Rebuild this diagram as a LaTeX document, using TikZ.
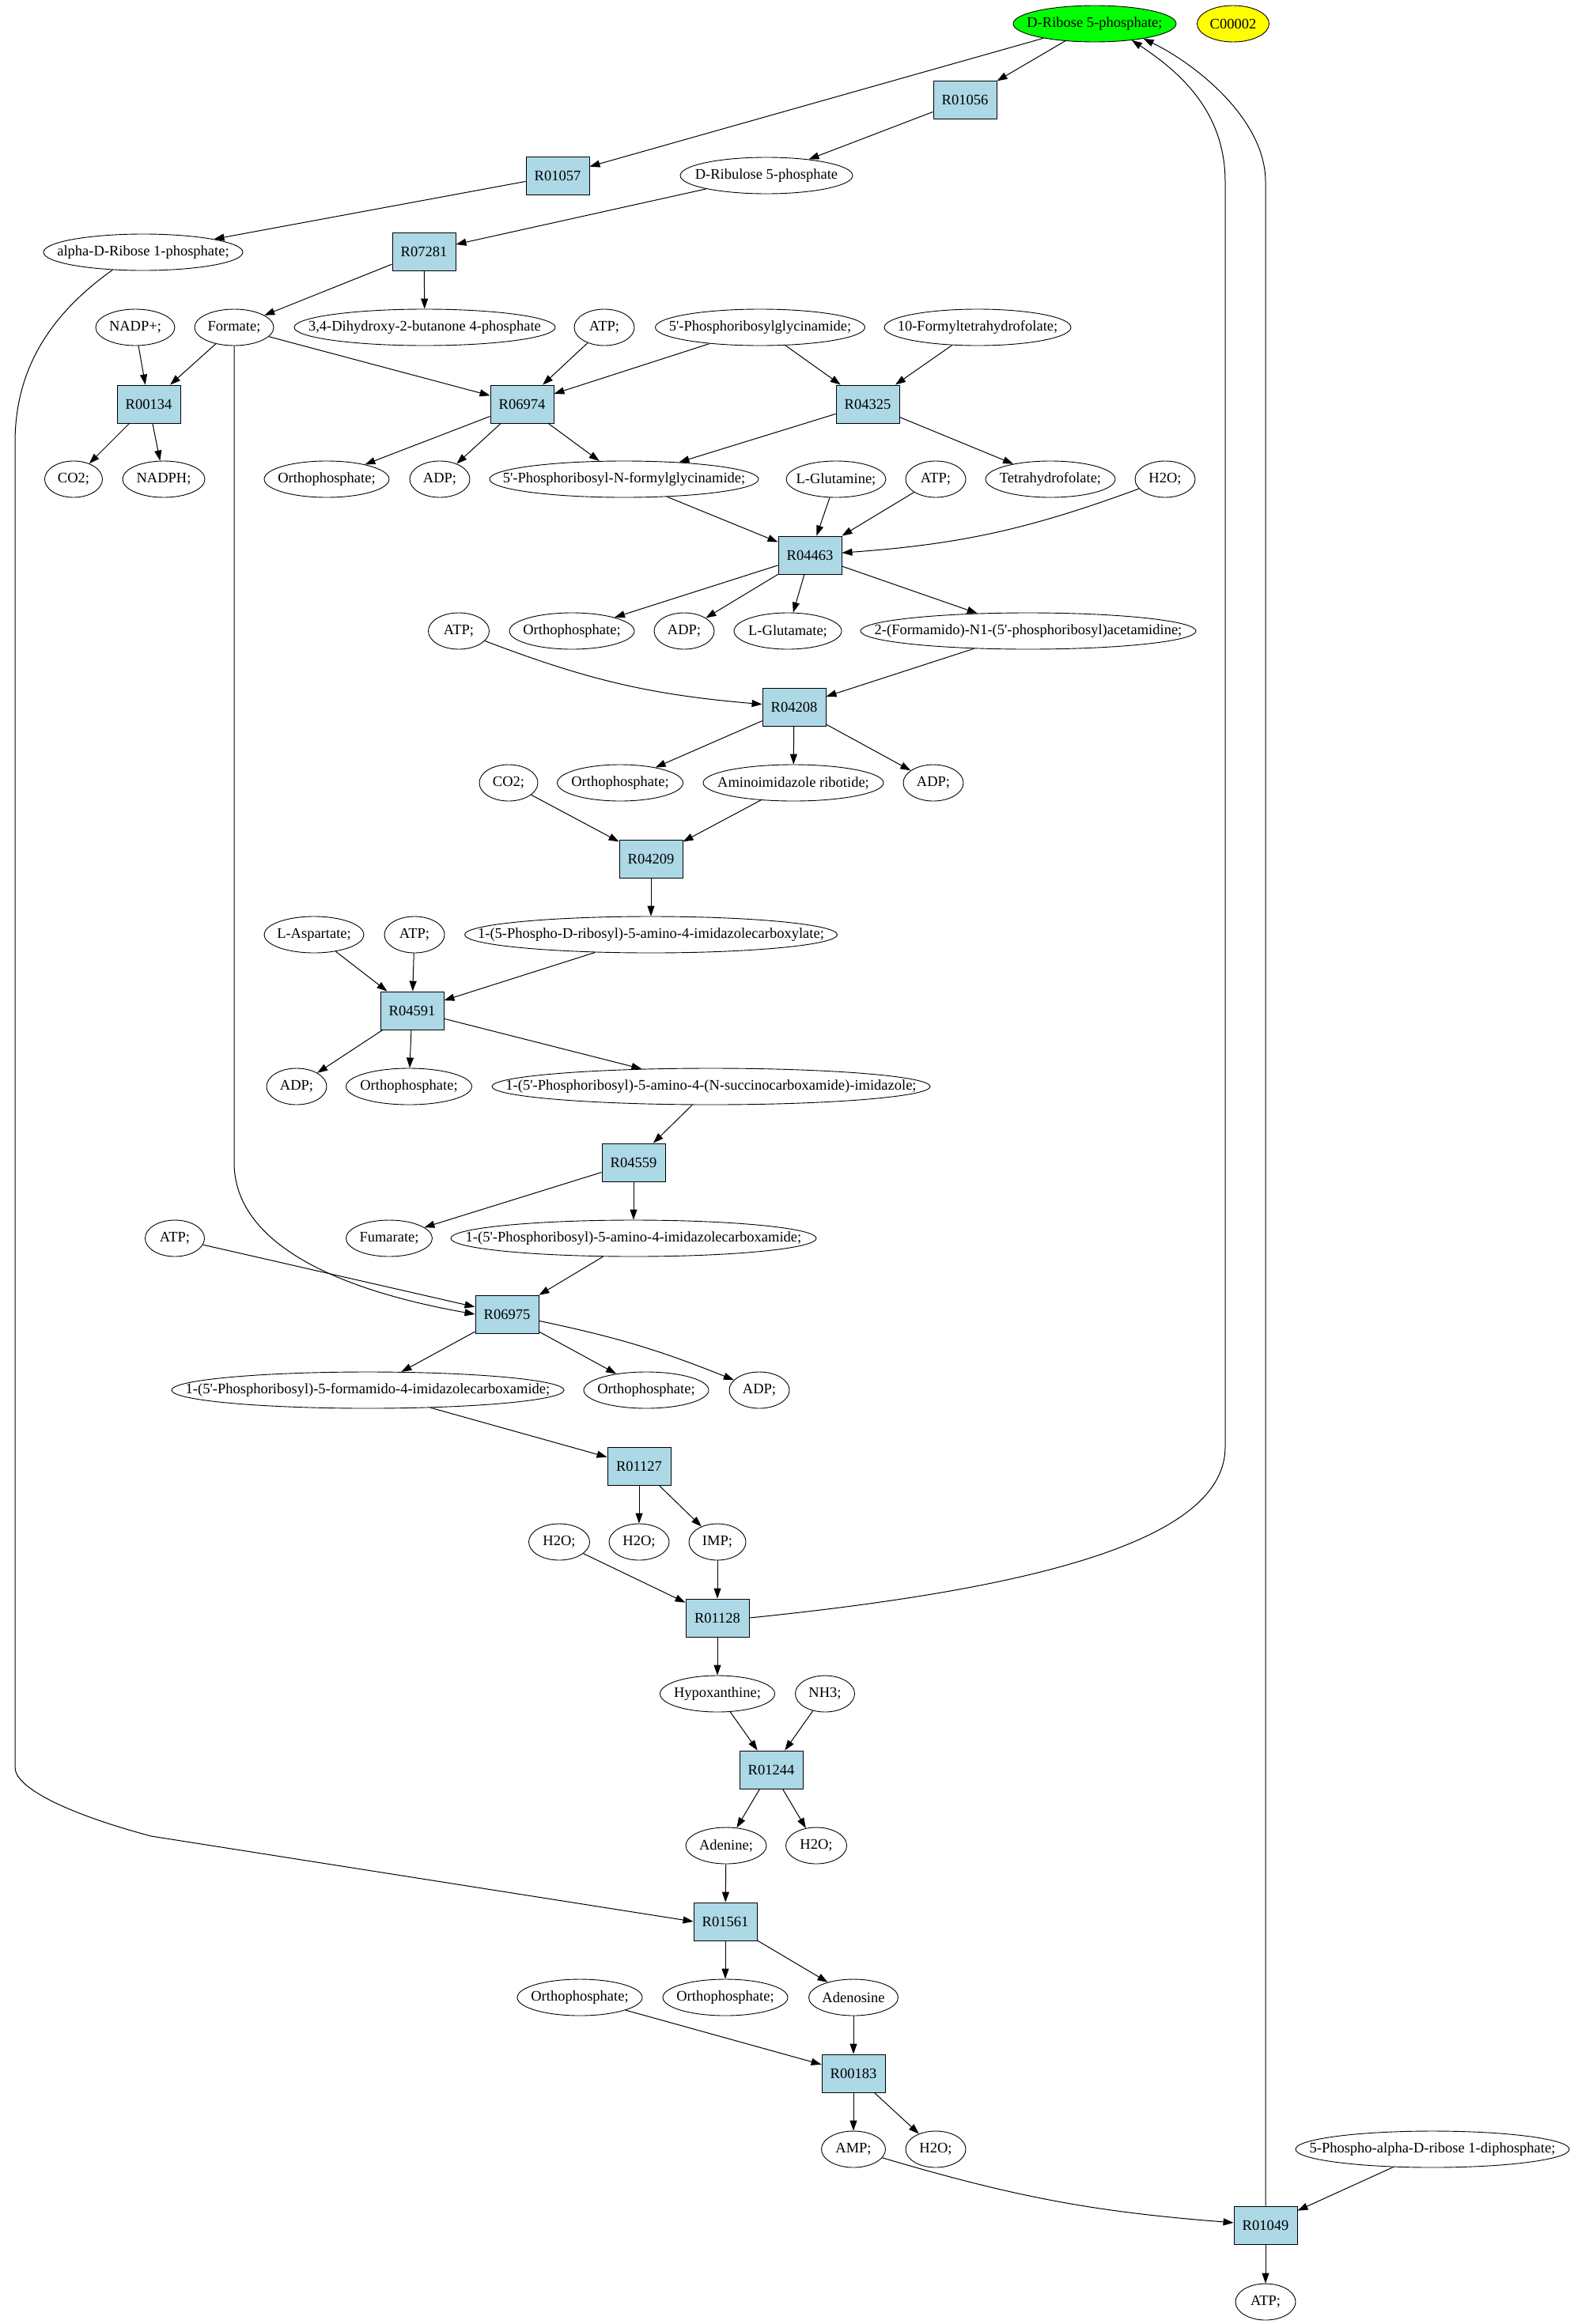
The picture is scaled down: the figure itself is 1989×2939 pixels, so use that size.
\documentclass[tikz,border=0pt]{standalone}
\usepackage{fontspec}
\setmainfont{Liberation Serif}[Ligatures=TeXOff]
\usetikzlibrary{arrows.meta,shapes.geometric}
\definecolor{lightblue}{RGB}{173,216,230}
\definecolor{gvgreen}{RGB}{0,255,0}
\definecolor{gvyellow}{RGB}{255,255,0}
\newcommand{\gvfont}{\fontsize{18.5}{22}\selectfont}
\tikzset{
  met/.style={ellipse, draw, line width=0.9pt, inner sep=0pt, minimum height=46pt, font=\gvfont},
  rxn/.style={rectangle, draw, line width=0.9pt, fill=lightblue, minimum width=80pt, minimum height=48pt, inner sep=0pt, font=\gvfont},
  arr/.style={-{Triangle[length=13pt,width=9pt]}, line width=1pt},
}
\newcommand{\metab}[5]{\node[met,minimum width=#4pt] (#1) at (#2,-#3) {\makebox[0pt]{#5}};}
\newcommand{\react}[3]{\node[rxn] (#1) at (#2,-#3) {\makebox[0pt]{#1}};}
\begin{document}
\begin{tikzpicture}[x=1pt,y=1pt]
\useasboundingbox (0,0) rectangle (1989,-2939);
\fill[white] (0,0) rectangle (1989,-2939);
% nodes
\node[met,minimum width=206pt,fill=gvgreen] (DRP) at (1384,-30) {\makebox[0pt]{D-Ribose 5-phosphate;}};
\node[met,minimum width=91pt,fill=gvyellow] (C00002) at (1559,-30) {\makebox[0pt]{C00002}};
\react{R01056}{1220}{126}
\react{R01057}{705}{222}
\metab{RuP}{969}{222}{218}{D-Ribulose 5-phosphate}
\metab{aRP}{181}{319}{252}{alpha-D-Ribose 1-phosphate;}
\react{R07281}{536}{318}
\metab{NADPp}{171}{414}{100}{NADP+;}
\metab{Form}{296}{414}{100}{Formate;}
\metab{DHBP}{537}{414}{330}{3,4-Dihydroxy-2-butanone 4-phosphate}
\metab{ATPa}{764}{414}{76}{ATP;}
\metab{PRG}{961}{414}{265}{5'-Phosphoribosylglycinamide;}
\metab{FTHF}{1236}{414}{236}{10-Formyltetrahydrofolate;}
\react{R00134}{188}{511}
\react{R06974}{660}{511}
\react{R04325}{1097}{511}
\metab{CO2a}{93}{606}{73}{CO2;}
\metab{NADPH}{207}{606}{104}{NADPH;}
\metab{Pia}{413}{606}{158}{Orthophosphate;}
\metab{ADPa}{556}{606}{76}{ADP;}
\metab{FGAR}{789}{606}{340}{5'-Phosphoribosyl-N-formylglycinamide;}
\metab{Gln}{1057}{606}{126}{L-Glutamine;}
\metab{ATPb}{1183}{606}{76}{ATP;}
\metab{THF}{1328}{606}{164}{Tetrahydrofolate;}
\metab{H2Oa}{1473}{606}{76}{H2O;}
\react{R04463}{1024}{702}
\metab{ATPc}{580}{798}{77}{ATP;}
\metab{Pib}{723}{798}{158}{Orthophosphate;}
\metab{ADPb}{865}{798}{76}{ADP;}
\metab{Glu}{996}{798}{136}{L-Glutamate;}
\metab{FGAM}{1300}{798}{424}{2-(Formamido)-N1-(5'-phosphoribosyl)acetamidine;}
\react{R04208}{1004}{894}
\metab{CO2b}{643}{990}{74}{CO2;}
\metab{Pic}{784}{990}{159}{Orthophosphate;}
\metab{AIR}{1003}{990}{228}{Aminoimidazole ribotide;}
\metab{ADPc}{1180}{990}{76}{ADP;}
\react{R04209}{823}{1086}
\metab{Asp}{397}{1182}{126}{L-Aspartate;}
\metab{ATPd}{524}{1182}{76}{ATP;}
\metab{CAIR}{823}{1182}{471}{1-(5-Phospho-D-ribosyl)-5-amino-4-imidazolecarboxylate;}
\react{R04591}{521}{1278}
\metab{ADPd}{375}{1374}{76}{ADP;}
\metab{Pid}{517}{1374}{159}{Orthophosphate;}
\metab{SAICAR}{899}{1374}{554}{1-(5'-Phosphoribosyl)-5-amino-4-(N-succinocarboxamide)-imidazole;}
\react{R04559}{801}{1470}
\metab{Fum}{492}{1566}{109}{Fumarate;}
\metab{AICAR}{801}{1566}{462}{1-(5'-Phosphoribosyl)-5-amino-4-imidazolecarboxamide;}
\metab{ATPe}{221}{1566}{75}{ATP;}
\react{R06975}{641}{1662}
\metab{FAICAR}{465}{1758}{496}{1-(5'-Phosphoribosyl)-5-formamido-4-imidazolecarboxamide;}
\metab{Pie}{817}{1758}{158}{Orthophosphate;}
\metab{ADPe}{960}{1758}{76}{ADP;}
\react{R01127}{808}{1854}
\metab{H2Ob}{707}{1950}{77}{H2O;}
\metab{H2Oc}{808}{1950}{76}{H2O;}
\metab{IMP}{907}{1950}{72}{IMP;}
\react{R01128}{907}{2046}
\metab{Hyp}{907}{2142}{145}{Hypoxanthine;}
\metab{NH3}{1043}{2142}{75}{NH3;}
\react{R01244}{975}{2238}
\metab{Ade}{918}{2334}{102}{Adenine;}
\metab{H2Od}{1032}{2334}{77}{H2O;}
\react{R01561}{917}{2430}
\metab{Pif}{733}{2526}{158}{Orthophosphate;}
\metab{Pig}{917}{2526}{158}{Orthophosphate;}
\metab{Ado}{1079}{2526}{113}{Adenosine}
\react{R00183}{1079}{2622}
\metab{AMP}{1079}{2718}{81}{AMP;}
\metab{H2Oe}{1183}{2718}{76}{H2O;}
\metab{PRPP}{1811}{2718}{346}{5-Phospho-alpha-D-ribose 1-diphosphate;}
\react{R01049}{1600}{2814}
\metab{ATPf}{1600}{2911}{76}{ATP;}
% edges
\draw[arr] (DRP) -- (R01057);
\draw[arr] (DRP) -- (R01056);
\draw[arr] (R01056) -- (RuP);
\draw[arr] (R01057) -- (aRP);
\draw[arr] (RuP) -- (R07281);
\draw[arr] (R07281) -- (Form);
\draw[arr] (R07281) -- (DHBP);
\draw[arr] (NADPp) -- (R00134);
\draw[arr] (Form) -- (R00134);
\draw[arr] (Form) -- (R06974);
\draw[arr] (ATPa) -- (R06974);
\draw[arr] (PRG) -- (R06974);
\draw[arr] (PRG) -- (R04325);
\draw[arr] (FTHF) -- (R04325);
\draw[arr] (R00134) -- (CO2a);
\draw[arr] (R00134) -- (NADPH);
\draw[arr] (R06974) -- (Pia);
\draw[arr] (R06974) -- (ADPa);
\draw[arr] (R06974) -- (FGAR);
\draw[arr] (R04325) -- (FGAR);
\draw[arr] (R04325) -- (THF);
\draw[arr] (FGAR) -- (R04463);
\draw[arr] (Gln) -- (R04463);
\draw[arr] (ATPb) -- (R04463);
\draw[arr] (H2Oa) to[bend left=8] (R04463);
\draw[arr] (R04463) -- (Pib);
\draw[arr] (R04463) -- (ADPb);
\draw[arr] (R04463) -- (Glu);
\draw[arr] (R04463) -- (FGAM);
\draw[arr] (ATPc) to[bend right=8] (R04208);
\draw[arr] (FGAM) -- (R04208);
\draw[arr] (R04208) -- (Pic);
\draw[arr] (R04208) -- (AIR);
\draw[arr] (R04208) -- (ADPc);
\draw[arr] (CO2b) -- (R04209);
\draw[arr] (AIR) -- (R04209);
\draw[arr] (R04209) -- (CAIR);
\draw[arr] (Asp) -- (R04591);
\draw[arr] (ATPd) -- (R04591);
\draw[arr] (CAIR) -- (R04591);
\draw[arr] (R04591) -- (ADPd);
\draw[arr] (R04591) -- (Pid);
\draw[arr] (R04591) -- (SAICAR);
\draw[arr] (SAICAR) -- (R04559);
\draw[arr] (R04559) -- (Fum);
\draw[arr] (R04559) -- (AICAR);
\draw[arr] (ATPe) -- (R06975);
\draw[arr] (Form.south) -- (296,-1470) .. controls (296,-1570) and (420,-1630) .. (R06975.west);
\draw[arr] (AICAR) -- (R06975);
\draw[arr] (R06975) -- (FAICAR);
\draw[arr] (R06975) -- (Pie);
\draw[arr] (R06975) to[bend left=5] (ADPe);
\draw[arr] (FAICAR) -- (R01127);
\draw[arr] (R01127) -- (H2Oc);
\draw[arr] (R01127) -- (IMP);
\draw[arr] (H2Ob) -- (R01128);
\draw[arr] (IMP) -- (R01128);
\draw[arr] (R01128.east) .. controls (1300,-2010) and (1549,-1950) .. (1549,-1830) -- (1549,-230) .. controls (1549,-140) and (1490,-90) .. (DRP.-24);
\draw[arr] (R01128) -- (Hyp);
\draw[arr] (Hyp) -- (R01244);
\draw[arr] (NH3) -- (R01244);
\draw[arr] (R01244) -- (Ade);
\draw[arr] (R01244) -- (H2Od);
\draw[arr] (Ade) -- (R01561);
\draw[arr] (aRP.-150) .. controls (60,-400) and (19,-470) .. (19,-560) -- (19,-2235) .. controls (19,-2262) and (90,-2295) .. (191,-2322) -- (R01561.west);
\draw[arr] (R01561) -- (Pig);
\draw[arr] (R01561) -- (Ado);
\draw[arr] (Pif) -- (R00183);
\draw[arr] (Ado) -- (R00183);
\draw[arr] (R00183) -- (AMP);
\draw[arr] (R00183) -- (H2Oe);
\draw[arr] (AMP) to[bend right=6] (R01049);
\draw[arr] (PRPP) -- (R01049);
\draw[arr] (R01049.north) -- (1600,-230) .. controls (1600,-150) and (1510,-80) .. (DRP.-17);
\draw[arr] (R01049) -- (ATPf);
\end{tikzpicture}
\end{document}
